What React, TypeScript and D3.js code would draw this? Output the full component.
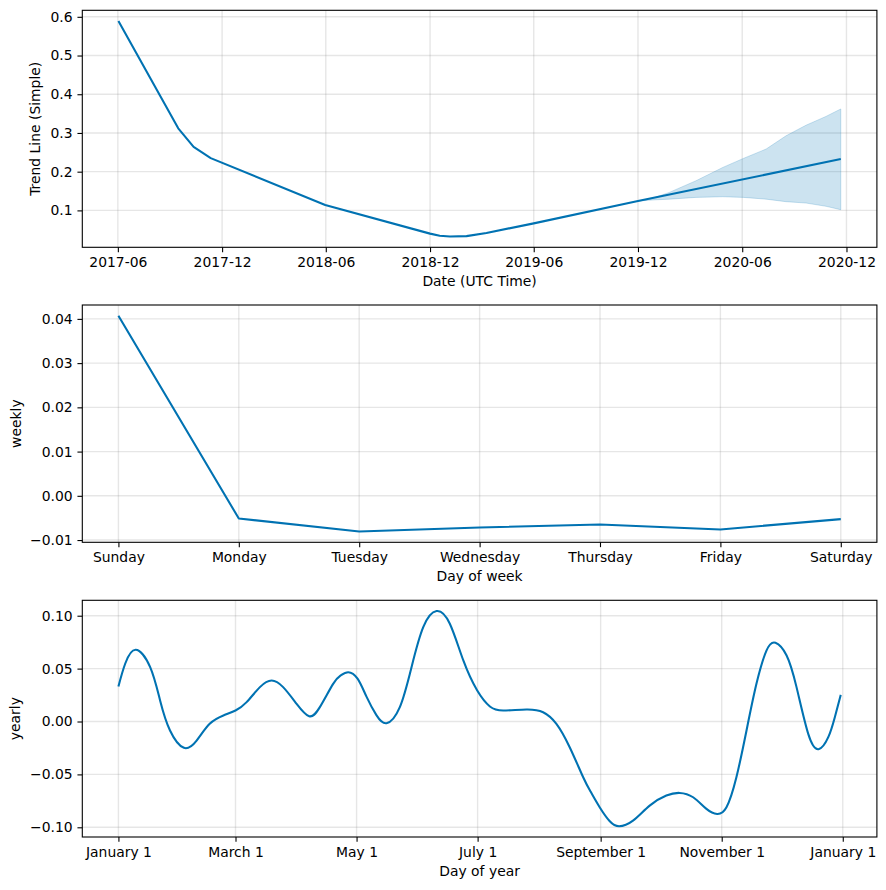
import React, { useEffect, useRef } from "react";
import * as d3 from "d3";

// ---- trend component ----
const trendDates = [
  "2017-06-02", "2017-09-15", "2017-10-12", "2017-11-11", "2018-05-31",
  "2018-12-01", "2018-12-18", "2019-01-05", "2019-02-03", "2019-03-10",
  "2019-06-01", "2019-12-01", "2020-11-21",
];
const trendValues = [
  0.589, 0.312, 0.264, 0.235, 0.114,
  0.040, 0.0345, 0.0325, 0.0335, 0.0417,
  0.0665, 0.124, 0.2327,
];
// forecast uncertainty band
const bandDates = [
  "2019-12-01", "2019-12-21", "2020-01-25", "2020-03-12", "2020-04-28",
  "2020-06-03", "2020-07-13", "2020-08-17", "2020-09-21", "2020-10-26", "2020-11-21",
];
const bandUpper = [0.124, 0.1285, 0.1465, 0.1767, 0.211, 0.2342, 0.2585, 0.2928, 0.320, 0.3427, 0.362];
const bandLower = [0.124, 0.1265, 0.129, 0.1336, 0.1353, 0.1336, 0.129, 0.1225, 0.119, 0.1106, 0.1018];
const trendTickLabels = [
  "2017-06", "2017-12", "2018-06", "2018-12", "2019-06", "2019-12", "2020-06", "2020-12",
];
const trendYTicks = [0.1, 0.2, 0.3, 0.4, 0.5, 0.6];

// ---- weekly component ----
const weekDays = ["Sunday", "Monday", "Tuesday", "Wednesday", "Thursday", "Friday", "Saturday"];
const weeklyValues = [0.0407, -0.00513, -0.00807, -0.00716, -0.00648, -0.00761, -0.00527];
const weeklyYTicks = [-0.01, 0.0, 0.01, 0.02, 0.03, 0.04];

// ---- yearly component (day of year from Jan 1) ----
const yearDays = [
  0, 3.4, 8.7, 16, 21, 26, 33, 39.4, 46, 52.9, 59, 64.6, 71.3, 77.2, 83, 89.8, 96.1,
  101.5, 108.2, 112, 115.8, 120.5, 125, 130, 135.1, 141.8, 147.7, 153.6, 160.3, 167, 173.8,
  180.8, 187.2, 193.9, 205.6, 214, 220.7, 227.4, 234.2, 238, 242.5, 247.6, 252.3,
  259.3, 267.7, 276.1, 282.8, 289.6, 296.3, 301.7, 306.4, 311.4, 316.5, 321.5,
  326.6, 331.1, 336.7, 341.7, 347.6, 352.8, 357.7, 361, 364,
];
const yearlyValues = [
  0.0331, 0.0546, 0.0678, 0.0514, 0.0199, -0.0085, -0.0249, -0.018, -0.0022, 0.0057,
  0.0104, 0.0183, 0.0325, 0.0388, 0.0325, 0.0167, 0.005, 0.0136, 0.0356, 0.0435, 0.0466,
  0.0405, 0.0235, 0.006, -0.0016, 0.0136, 0.0514, 0.0892, 0.1044, 0.0924, 0.0577, 0.0293,
  0.0142, 0.0104, 0.0114, 0.0088, -0.0022, -0.0243, -0.0527, -0.0665, -0.081, -0.0943,
  -0.099, -0.0937, -0.0795, -0.070, -0.0675, -0.0716, -0.0826, -0.0874, -0.081,
  -0.0527, -0.0085, 0.0356, 0.0672, 0.0744, 0.0624, 0.0325, -0.0117, -0.0262,
  -0.0148, 0.0041, 0.0252,
];
const yearTickDates = [
  "2017-01-01", "2017-03-01", "2017-05-01", "2017-07-01", "2017-09-01", "2017-11-01", "2018-01-01",
];
const yearlyYTicks = [-0.1, -0.05, 0.0, 0.05, 0.1];

const W = 886;
const H = 890;
const LINE = "#0072B2";
const FONT = "'DejaVu Sans', sans-serif";
const FS = 13.9;
const TICK = 4.86;

const left = 82.3;
const right = 876.9;
const panels = [
  { top: 10.3, bottom: 247.3 },
  { top: 305, bottom: 542.3 },
  { top: 600.3, bottom: 837 },
];

const pad = (lo: number, hi: number): [number, number] => {
  const m = (hi - lo) * 0.05;
  return [lo - m, hi + m];
};

export default function App() {
  const svgRef = useRef<SVGSVGElement>(null);

  useEffect(() => {
    if (!svgRef.current) return;
    const svg = d3.select(svgRef.current);
    svg.selectAll("*").remove();

    const parseDay = d3.utcParse("%Y-%m-%d");
    const parseMonth = d3.utcParse("%Y-%m");

    const drawFrame = (
      g: d3.Selection<SVGGElement, unknown, null, undefined>,
      x: any,
      y: any,
      xTicks: any[],
      yTicks: number[],
      xFmt: (d: any) => string,
      yFmt: (d: any) => string,
      xLabel: string,
      yLabel: string,
      yLabelX: number,
      p: { top: number; bottom: number }
    ) => {
      const grid = g.append("g");
      xTicks.forEach((t) => {
        grid.append("line")
          .attr("x1", x(t)).attr("x2", x(t))
          .attr("y1", p.top).attr("y2", p.bottom);
      });
      yTicks.forEach((t) => {
        grid.append("line")
          .attr("x1", left).attr("x2", right)
          .attr("y1", y(t)).attr("y2", y(t));
      });
      grid.selectAll("line")
        .attr("stroke", "gray")
        .attr("stroke-opacity", 0.2)
        .attr("stroke-width", 1.39);

      const xa = g.append("g")
        .attr("transform", `translate(0,${p.bottom})`)
        .call(d3.axisBottom(x).tickValues(xTicks).tickFormat(xFmt).tickSize(TICK).tickPadding(TICK));
      const ya = g.append("g")
        .attr("transform", `translate(${left},0)`)
        .call(d3.axisLeft(y).tickValues(yTicks).tickFormat(yFmt).tickSize(TICK).tickPadding(TICK));
      [xa, ya].forEach((a) => {
        a.select(".domain").remove();
        a.selectAll("line").attr("stroke", "#000").attr("stroke-width", 1.1);
        a.selectAll("text").attr("font-family", FONT).attr("font-size", FS).attr("fill", "#000");
      });

      g.append("text")
        .attr("x", (left + right) / 2)
        .attr("y", p.bottom + 38.7)
        .attr("text-anchor", "middle")
        .attr("font-family", FONT)
        .attr("font-size", FS)
        .text(xLabel);
      g.append("text")
        .attr("transform", `translate(${yLabelX},${(p.top + p.bottom) / 2}) rotate(-90)`)
        .attr("text-anchor", "middle")
        .attr("font-family", FONT)
        .attr("font-size", FS)
        .text(yLabel);
    };

    const drawBorder = (g: d3.Selection<SVGGElement, unknown, null, undefined>, p: { top: number; bottom: number }) => {
      g.append("rect")
        .attr("x", left).attr("y", p.top)
        .attr("width", right - left).attr("height", p.bottom - p.top)
        .attr("fill", "none")
        .attr("stroke", "#000")
        .attr("stroke-width", 1.1);
    };

    // ---------- panel 1: trend ----------
    {
      const p = panels[0];
      const g = svg.append("g");
      const dates = trendDates.map((d) => parseDay(d)!);
      const t0 = +dates[0];
      const t1 = +dates[dates.length - 1];
      const [d0, d1] = pad(t0, t1);
      const x = d3.scaleUtc().domain([new Date(d0), new Date(d1)]).range([left, right]);
      const allY = trendValues.concat(bandUpper, bandLower);
      const y = d3.scaleLinear().domain(pad(d3.min(allY)!, d3.max(allY)!)).range([p.bottom, p.top]);

      drawFrame(
        g, x, y,
        trendTickLabels.map((s) => parseMonth(s)!),
        trendYTicks,
        d3.utcFormat("%Y-%m"),
        d3.format(".1f"),
        "Date (UTC Time)", "Trend Line (Simple)", 39.5, p
      );

      const band = bandDates.map((d, i) => ({ t: parseDay(d)!, lo: bandLower[i], hi: bandUpper[i] }));
      g.append("path")
        .datum(band)
        .attr("fill", LINE)
        .attr("fill-opacity", 0.2)
        .attr("stroke", LINE)
        .attr("stroke-opacity", 0.2)
        .attr("stroke-width", 1)
        .attr("d", d3.area<any>().x((d) => x(d.t)).y0((d) => y(d.lo)).y1((d) => y(d.hi)));

      g.append("path")
        .datum(dates.map((t, i) => ({ t, v: trendValues[i] })))
        .attr("fill", "none")
        .attr("stroke", LINE)
        .attr("stroke-width", 2.08)
        .attr("stroke-linejoin", "round")
        .attr("d", d3.line<any>().x((d) => x(d.t)).y((d) => y(d.v)));
      drawBorder(g, p);
    }

    // ---------- panel 2: weekly ----------
    {
      const p = panels[1];
      const g = svg.append("g");
      const x = d3.scaleLinear().domain(pad(0, weekDays.length - 1)).range([left, right]);
      const y = d3.scaleLinear()
        .domain(pad(d3.min(weeklyValues)!, d3.max(weeklyValues)!))
        .range([p.bottom, p.top]);
      drawFrame(
        g, x, y,
        d3.range(weekDays.length),
        weeklyYTicks,
        (i: number) => weekDays[i],
        d3.format(".2f"),
        "Day of week", "weekly", 21, p
      );
      g.append("path")
        .datum(weeklyValues)
        .attr("fill", "none")
        .attr("stroke", LINE)
        .attr("stroke-width", 2.08)
        .attr("stroke-linejoin", "round")
        .attr("d", d3.line<number>().x((_, i) => x(i)).y((v) => y(v)));
      drawBorder(g, p);
    }

    // ---------- panel 3: yearly ----------
    {
      const p = panels[2];
      const g = svg.append("g");
      const base = +parseDay("2017-01-01")!;
      const day = 864e5;
      const [d0, d1] = pad(yearDays[0], yearDays[yearDays.length - 1]);
      const x = d3.scaleUtc()
        .domain([new Date(base + d0 * day), new Date(base + d1 * day)])
        .range([left, right]);
      const y = d3.scaleLinear()
        .domain(pad(d3.min(yearlyValues)!, d3.max(yearlyValues)!))
        .range([p.bottom, p.top]);
      drawFrame(
        g, x, y,
        yearTickDates.map((s) => parseDay(s)!),
        yearlyYTicks,
        d3.utcFormat("%B %-d"),
        d3.format(".2f"),
        "Day of year", "yearly", 20, p
      );
      g.append("path")
        .datum(yearDays.map((d, i) => ({ t: new Date(base + d * day), v: yearlyValues[i] })))
        .attr("fill", "none")
        .attr("stroke", LINE)
        .attr("stroke-width", 2.08)
        .attr("stroke-linejoin", "round")
        .attr("d", d3.line<any>().x((d) => x(d.t)).y((d) => y(d.v)).curve(d3.curveNatural));
      drawBorder(g, p);
    }
  }, []);

  return (
    <svg
      ref={svgRef}
      width={W}
      height={H}
      style={{ position: "absolute", left: 0, top: 0, background: "#fff" }}
    />
  );
}
